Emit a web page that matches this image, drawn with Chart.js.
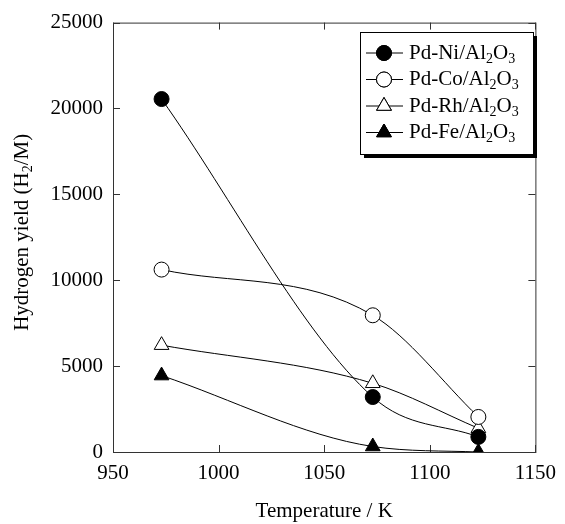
<!DOCTYPE html>
<html>
<head>
<meta charset="utf-8">
<script src="https://cdn.jsdelivr.net/npm/chart.js@4/dist/chart.umd.min.js"></script>
<style>
  html, body { margin: 0; padding: 0; background: #fff; }
  #wrap { width: 565px; height: 524px; }
</style>
</head>
<body>
<div id="wrap"><canvas id="chart" width="565" height="524"></canvas></div>
<script>
"use strict";

// data
const temperatures = [973, 1073, 1123];
const pdNi = [20550, 3200, 880];
const pdCo = [10620, 7960, 2040];
const pdRh = [6220, 4000, 1380];
const pdFe = [4450, 320, 0];
const seriesNames = ["Pd-Ni", "Pd-Co", "Pd-Rh", "Pd-Fe"];
const xTicks = [950, 1000, 1050, 1100, 1150];
const yTicks = [0, 5000, 10000, 15000, 20000, 25000];

const serif = "'Liberation Serif', 'Times New Roman', serif";

function toPoints(values) {
  return temperatures.map((t, i) => ({ x: t, y: values[i] }));
}

function makeSet(name, values, style, filled) {
  return {
    label: name,
    data: toPoints(values),
    borderColor: "#000",
    borderWidth: 1,
    cubicInterpolationMode: "monotone",
    pointStyle: style,
    pointRadius: style === "triangle" ? 8.5 : 7.5,
    pointBorderWidth: 1,
    pointBorderColor: "#000",
    pointBackgroundColor: filled ? "#000" : "#fff"
  };
}

const datasets = [
  makeSet(seriesNames[0], pdNi, "circle", true),
  makeSet(seriesNames[1], pdCo, "circle", false),
  makeSet(seriesNames[2], pdRh, "triangle", false),
  makeSet(seriesNames[3], pdFe, "triangle", true)
];

// text with subscripts: parts = [[text, isSub], ...]
function drawRich(ctx, parts, x, y, size) {
  let cx = x;
  for (const [txt, sub] of parts) {
    ctx.font = (sub ? Math.round(size * 0.68) : size) + "px " + serif;
    ctx.fillText(txt, cx, sub ? y + size * 0.28 : y);
    cx += ctx.measureText(txt).width;
  }
  return cx - x;
}

function richWidth(ctx, parts, size) {
  let w = 0;
  for (const [txt, sub] of parts) {
    ctx.font = (sub ? Math.round(size * 0.68) : size) + "px " + serif;
    w += ctx.measureText(txt).width;
  }
  return w;
}

const framePlugin = {
  id: "frame",
  beforeDatasetsDraw(chart) {
    const { ctx, chartArea: a, scales } = chart;
    ctx.save();
    ctx.strokeStyle = "#333";
    ctx.lineWidth = 1;
    ctx.strokeRect(a.left + 0.5, a.top + 0.5, a.right - a.left, a.bottom - a.top);
    const len = 7;
    ctx.beginPath();
    for (const v of xTicks) {
      const px = Math.round(scales.x.getPixelForValue(v)) + 0.5;
      ctx.moveTo(px, a.bottom); ctx.lineTo(px, a.bottom - len);
      ctx.moveTo(px, a.top); ctx.lineTo(px, a.top + len);
    }
    for (const v of yTicks) {
      const py = Math.round(scales.y.getPixelForValue(v)) + 0.5;
      ctx.moveTo(a.left, py); ctx.lineTo(a.left + len, py);
      ctx.moveTo(a.right, py); ctx.lineTo(a.right - len, py);
    }
    ctx.stroke();
    ctx.restore();
  },
  afterDraw(chart) {
    const { ctx, chartArea: a } = chart;
    ctx.save();
    // y axis title
    const size = 21;
    const title = [["Hydrogen yield (H", false], ["2", true], ["/M)", false]];
    const w = richWidth(ctx, title, size);
    ctx.translate(22, (a.top + a.bottom) / 2 - 5);
    ctx.rotate(-Math.PI / 2);
    ctx.fillStyle = "#000";
    ctx.textBaseline = "middle";
    drawRich(ctx, title, -w / 2, 0, size);
    ctx.restore();

    // legend box
    ctx.save();
    const bx = 360, by = 32, bw = 173, bh = 122;
    ctx.fillStyle = "#000";
    ctx.fillRect(bx + 4, by + 4, bw, bh);
    ctx.fillStyle = "#fff";
    ctx.fillRect(bx, by, bw, bh);
    ctx.strokeStyle = "#000";
    ctx.lineWidth = 1;
    ctx.strokeRect(bx + 0.5, by + 0.5, bw, bh);
    ctx.textBaseline = "middle";
    chart.data.datasets.forEach((ds, i) => {
      const ly = by + 21 + i * 26.5;
      ctx.beginPath();
      ctx.moveTo(bx + 6, ly);
      ctx.lineTo(bx + 43, ly);
      ctx.strokeStyle = "#000";
      ctx.stroke();
      Chart.helpers.drawPoint(ctx, {
        pointStyle: ds.pointStyle,
        radius: ds.pointRadius,
        borderWidth: 1
      }, bx + 24, ly);
      ctx.fillStyle = ds.pointBackgroundColor;
      ctx.strokeStyle = "#000";
      ctx.fill();
      ctx.stroke();
      ctx.fillStyle = "#000";
      drawRich(ctx, [[ds.label + "/Al", false], ["2", true], ["O", false], ["3", true]], bx + 49, ly, 21);
    });
    ctx.restore();
  }
};

const config = {
  type: "line",
  data: { datasets: datasets },
  options: {
    responsive: false,
    animation: false,
    layout: { padding: { top: 22, right: 22, left: 0, bottom: 0 } },
    plugins: { legend: { display: false }, tooltip: { enabled: false } },
    scales: {
      x: {
        type: "linear",
        min: 950,
        max: 1150,
        afterFit: (s) => { s.height = 72; },
        afterBuildTicks: (s) => { s.ticks = xTicks.map(v => ({ value: v })); },
        grid: { display: false, drawTicks: false },
        border: { display: false },
        ticks: {
          color: "#000", padding: 9, maxRotation: 0,
          font: { family: serif, size: 21 },
          callback: (v) => String(v)
        },
        title: {
          display: true,
          text: "Temperature / K",
          color: "#000",
          padding: { top: 0, bottom: 0 },
          font: { family: serif, size: 21 }
        }
      },
      y: {
        type: "linear",
        min: 0,
        max: 25000,
        afterFit: (s) => { s.width = 113; },
        afterBuildTicks: (s) => { s.ticks = yTicks.map(v => ({ value: v })); },
        grid: { display: false, drawTicks: false },
        border: { display: false },
        ticks: {
          color: "#000", padding: 10,
          font: { family: serif, size: 21 },
          callback: (v) => String(v)
        }
      }
    }
  },
  plugins: [framePlugin]
};

const myChart = new Chart(document.getElementById("chart"), config);
</script>
</body>
</html>
